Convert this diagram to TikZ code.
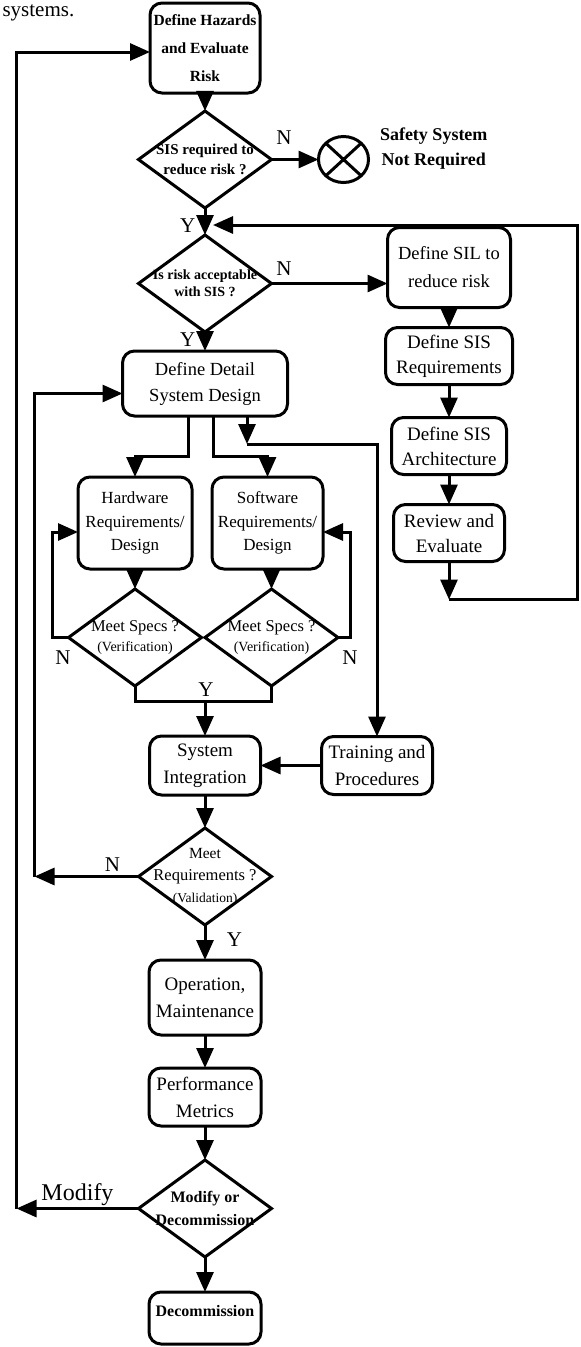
\documentclass[tikz,border=0pt]{standalone}
\usepackage{fontspec}
\setmainfont{Liberation Serif}
\usetikzlibrary{positioning,shapes.geometric,arrows.meta}

\begin{document}
\begin{tikzpicture}[x=1pt,y=-1pt,line width=3pt,
>={Triangle[length=20pt,width=17pt]},
procb/.style={
  draw,
  rounded corners=12pt,
  align=center,
  inner sep=0pt,
  outer sep=0pt,
  minimum width=112pt,
  minimum height=58pt,
  font=\fontsize{19}{27}\selectfont},
decb/.style={
  draw,
  diamond,
  align=center,
  inner sep=-40pt,
  outer sep=0pt,
  minimum width=133pt,
  minimum height=97pt,
  font=\fontsize{16.5}{20}\selectfont},
ynl/.style={font=\fontsize{21}{21}\selectfont},
]
\useasboundingbox (0,0) rectangle (581,1347);
\node[anchor=north west,inner sep=0pt,font=\fontsize{21}{21}\selectfont] (sys) at (1,3) {systems.};
\node[procb,minimum width=110pt,minimum height=90pt,font=\bfseries\fontsize{15.5}{28}\selectfont] (haz) at (205,48) {Define Hazards\\and Evaluate\\Risk};
\node[decb,below=18pt of haz,font=\bfseries\fontsize{15}{20}\selectfont] (sisreq) {SIS required to\\reduce risk ?};
\node[ellipse,draw,outer sep=0pt,minimum width=50pt,minimum height=46pt,right=47pt of sisreq] (nogo) {};
\draw (nogo.north west) -- (nogo.south east) (nogo.north east) -- (nogo.south west);
\node[right=10pt of nogo,yshift=11pt,align=center,inner sep=0pt,font=\bfseries\fontsize{18}{25}\selectfont] (notreq) {Safety System\\Not Required};
\node[decb,below=27pt of sisreq,font=\bfseries\fontsize{14}{17}\selectfont] (accept) {Is risk acceptable\\with SIS ?};
\node[procb,right=116pt of accept,yshift=16pt,minimum width=123pt,minimum height=80pt,font=\fontsize{18.5}{28}\selectfont] (sil) {Define SIL to\\reduce risk};
\node[procb,below=20pt of sil,minimum width=127pt,minimum height=57pt,font=\fontsize{19}{25}\selectfont] (sisreqs) {Define SIS\\Requirements};
\node[procb,below=33pt of sisreqs,minimum width=115pt,minimum height=57pt,font=\fontsize{19}{25}\selectfont] (arch) {Define SIS\\Architecture};
\node[procb,below=30pt of arch,minimum width=111pt,minimum height=57pt,font=\fontsize{19}{25}\selectfont] (review) {Review and\\Evaluate};
\node[procb,below=19pt of accept,minimum width=165pt,minimum height=65pt,font=\fontsize{18.5}{26}\selectfont] (detail) {Define Detail\\System Design};
\node[procb,below=61pt of detail,xshift=-70pt,minimum width=114pt,minimum height=92pt,font=\fontsize{17}{23.5}\selectfont] (hw) {Hardware\\Requirements/\\Design};
\node[procb,right=20pt of hw,minimum width=111pt,minimum height=92pt,font=\fontsize{17}{23.5}\selectfont] (sw) {Software\\Requirements/\\Design};
\node[decb,below=20pt of hw] (hwq) {Meet Specs ?\\{\fontsize{14}{14}\selectfont(Verification)}};
\node[decb,below=20pt of sw,xshift=4pt] (swq) {Meet Specs ?\\{\fontsize{14}{14}\selectfont(Verification)}};
\coordinate[below=15pt of hwq.south] (hwj);
\coordinate (yjoin) at (detail |- hwj);
\node[procb,below=35pt of yjoin,minimum width=111pt,minimum height=59pt] (sysint) {System\\Integration};
\node[procb,right=61pt of sysint,minimum width=111pt] (train) {Training and\\Procedures};
\node[decb,below=33pt of sysint,font=\fontsize{16.5}{22}\selectfont] (meetreq) {{\fontsize{15.5}{15.5}\selectfont Meet}\\Requirements ?\\{\fontsize{13.5}{13.5}\selectfont(Validation)}};
\node[procb,below=35pt of meetreq,minimum height=75pt] (oper) {Operation,\\Maintenance};
\node[procb,below=33pt of oper] (perf) {Performance\\Metrics};
\node[decb,below=34pt of perf,font=\bfseries\fontsize{16}{23}\selectfont] (modq) {Modify or\\Decommission};
\node[procb,below=35pt of modq,minimum height=52pt,text height=12pt,text depth=15pt,font=\bfseries\fontsize{16}{20}\selectfont] (decom) {Decommission};

\draw[->] (haz) -- (sisreq);
\draw[->] (sisreq) -- node[pos=0,above right,yshift=10pt,ynl]{N} (nogo);
\draw[->] (sisreq) -- node[pos=.67,left=5pt,ynl]{Y} (accept);
\draw[->] (accept) -- node[pos=0,above right,yshift=3pt,ynl]{N} (accept -| sil.west);
\draw[->] (accept) -- node[pos=.42,left=5pt,ynl]{Y} (detail);
\draw[->] (sil) -- (sisreqs);
\draw[->] (sisreqs) -- (arch);
\draw[->] (arch) -- (review);
\coordinate[below=38pt of review.south] (revb);
\coordinate[above right=10pt and 8pt of accept.north] (accin);
\draw[->] (review) -- (revb);
\draw[->] (revb) -- ++(128,0) |- (accin);
\draw[->] ([xshift=-17pt]detail.south) -- ++(0,40) -| (hw);
\draw[->] ([xshift=8pt]detail.south) -- ++(0,40) -| (sw);
\draw[->] ([xshift=42pt]detail.south) -- ++(0,28) coordinate (trb);
\draw[->] (trb) -| (train);
\draw[->] (hw) -- (hwq);
\draw[->] (sw.south -| swq.north) -- (swq);
\draw[->] (hwq.west) -- node[pos=.35,below=8pt,ynl]{N} ++(-16,0) |- ([yshift=-9pt]hw.west);
\draw[->] (swq.east) -- ++(12,0) node[below=8pt,ynl]{N} |- ([yshift=-9pt]sw.east);
\draw (hwq.south) -- ++(0,15) -| node[pos=.26,above,ynl]{Y} (swq.south);
\draw[->] (yjoin) -- (sysint);
\draw[->] (train) -- (sysint);
\draw[->] (sysint) -- (meetreq);
\coordinate[left=104pt of meetreq.west] (innl);
\draw[->] (meetreq.west) -- node[pos=.25,above,ynl]{N} (innl);
\draw[->] (innl) |- ([yshift=-10pt]detail.west);
\draw[->] (meetreq) -- node[pos=.43,right=17pt,ynl]{Y} (oper);
\draw[->] (oper) -- (perf);
\draw[->] (perf) -- (modq);
\draw[->] (modq) -- (decom);
\coordinate[left=122pt of modq.west] (modl);
\draw[->] (modq.west) -- node[above,inner sep=1pt,font=\fontsize{24}{24}\selectfont]{Modify} (modl);
\draw[->] (modl) |- ([yshift=-4pt]haz.west);
\end{tikzpicture}
\end{document}
